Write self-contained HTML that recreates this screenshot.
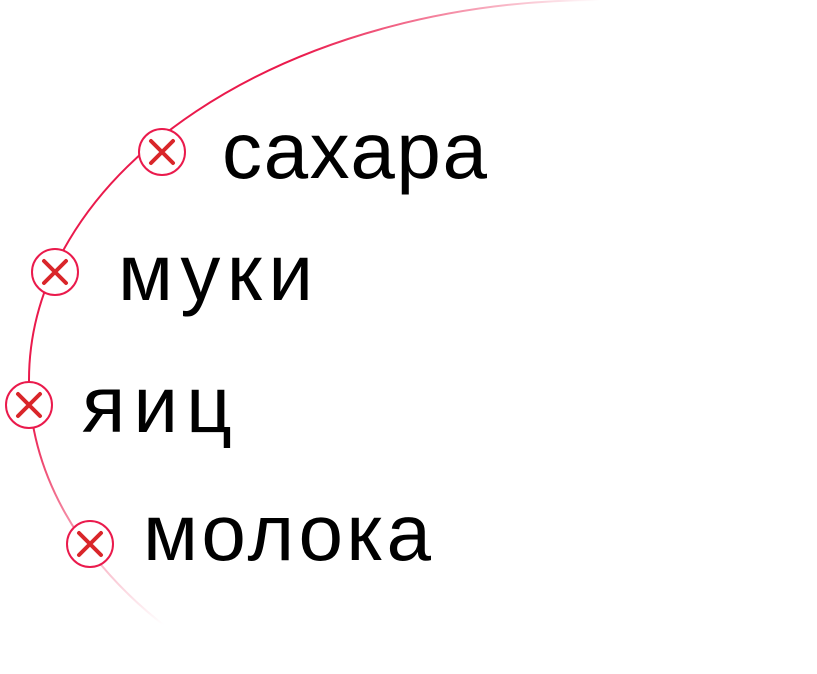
<!DOCTYPE html>
<html><head><meta charset="utf-8"><style>
html,body{margin:0;padding:0;background:#fff;width:817px;height:674px;overflow:hidden}
svg{display:block}
text{font-family:"Liberation Sans",sans-serif;font-size:80px;fill:#000}
</style></head><body>
<svg width="817" height="674" viewBox="0 0 817 674">
<defs>
<linearGradient id="gt" gradientUnits="userSpaceOnUse" x1="300" y1="0" x2="600" y2="0">
<stop offset="0" stop-color="#ea1a4c" stop-opacity="1"/>
<stop offset="1" stop-color="#ea1a4c" stop-opacity="0"/>
</linearGradient>
<linearGradient id="gb" gradientUnits="userSpaceOnUse" x1="0" y1="420" x2="0" y2="625">
<stop offset="0" stop-color="#ea1a4c" stop-opacity="1"/>
<stop offset="1" stop-color="#ea1a4c" stop-opacity="0"/>
</linearGradient>
</defs>
<path d="M600 0 A571 380 0 0 0 29 380" fill="none" stroke="url(#gt)" stroke-width="2"/>
<path d="M29 380 A571 380 0 0 0 170 630" fill="none" stroke="url(#gb)" stroke-width="2"/>
<g stroke="#ea1a4c" stroke-width="2" fill="#fff">
<circle cx="162" cy="152" r="23"/>
<circle cx="55" cy="272" r="23"/>
<circle cx="29" cy="405" r="23"/>
<circle cx="90" cy="544" r="23"/>
</g>
<g stroke="#d9262a" stroke-width="4" stroke-linecap="round">
<path d="M151 141 L173 163 M173 141 L151 163"/>
<path d="M44 261 L66 283 M66 261 L44 283"/>
<path d="M18 394 L40 416 M40 394 L18 416"/>
<path d="M79 533 L101 555 M101 533 L79 555"/>
</g>
<text x="222" y="178" textLength="265">сахара</text>
<text x="118" y="300" textLength="195">муки</text>
<text x="82" y="432" textLength="150">яиц</text>
<text x="143" y="560" textLength="288">молока</text>
</svg>
</body></html>
